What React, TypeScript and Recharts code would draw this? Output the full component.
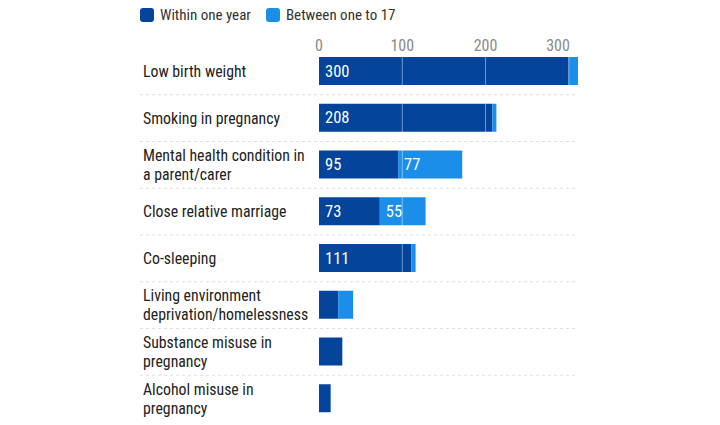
import React from 'react'
import { BarChart, Bar, XAxis, YAxis, ReferenceLine, LabelList } from 'recharts'

const CATEGORIES = [
  'Low birth weight',
  'Smoking in pregnancy',
  'Mental health condition in\na parent/carer',
  'Close relative marriage',
  'Co-sleeping',
  'Living environment\ndeprivation/homelessness',
  'Substance misuse in\npregnancy',
  'Alcohol misuse in\npregnancy',
]
const WITHIN_ONE_YEAR = [300, 208, 95, 73, 111, 23, 28, 14]
const ONE_TO_17 = [11, 5, 77, 55, 5, 18, 0, 0]
const X_TICKS = [0, 100, 200, 300]
const GRID_LINES = [100, 200, 300]

const DARK = '#04449a'
const LIGHT = '#1b8ee9'
const FONT = "'Roboto Condensed', 'Liberation Sans Narrow', 'DejaVu Sans Condensed', Roboto, sans-serif"

const W = 720
const H = 425
const MARGIN = { top: 28, right: 142, bottom: 3, left: 143 }
const X_AXIS_H = 20
const BAND = (H - MARGIN.top - MARGIN.bottom - X_AXIS_H) / CATEGORIES.length

const data = CATEGORIES.map((name, i) => ({
  name,
  within: WITHIN_ONE_YEAR[i],
  between: ONE_TO_17[i],
}))

const CategoryTick = (props: any) => {
  const { y, payload, index } = props
  const lines = String(payload.value).split('\n')
  const startY = y - ((lines.length - 1) * 19) / 2
  return (
    <g>
      <text x={MARGIN.left} y={startY} fill="#222" fontSize={15.8} fontFamily={FONT} textAnchor="start">
        {lines.map((l, i) => (
          <tspan key={i} x={MARGIN.left} y={startY + i * 19} dominantBaseline="central">
            {l}
          </tspan>
        ))}
      </text>
      {index < CATEGORIES.length - 1 && (
        <line
          x1={140}
          x2={W - MARGIN.right}
          y1={y + BAND / 2}
          y2={y + BAND / 2}
          stroke="#dedede"
          strokeDasharray="3 3"
        />
      )}
    </g>
  )
}

const ValueTick = (props: any) => {
  const { x, payload, index } = props
  const last = index === X_TICKS.length - 1
  return (
    <text
      x={last ? x + 1 : x}
      y={45}
      fill="#8a8a8a"
      fontSize={16}
      fontFamily={FONT}
      textAnchor={last ? 'end' : 'middle'}
      dominantBaseline="central"
    >
      {payload.value}
    </text>
  )
}

const ValueLabel = (props: any) => {
  const { x, y, height, value } = props
  if (value < 50) return null
  return (
    <text x={x + 6} y={y + height / 2} fill="#fff" fontSize={16.5} fontFamily={FONT} dominantBaseline="central">
      {value}
    </text>
  )
}

const LegendItem = ({ color, label }: { color: string; label: string }) => (
  <div style={{ display: 'flex', alignItems: 'center', marginRight: 15 }}>
    <span style={{ width: 14, height: 14, borderRadius: 3, background: color, marginRight: 6, display: 'inline-block' }} />
    <span>{label}</span>
  </div>
)

export default function App() {
  return (
    <div style={{ position: 'absolute', left: 0, top: 0, width: W, height: H, background: '#fff' }}>
      <div
        style={{
          position: 'absolute',
          left: 140,
          top: 6,
          display: 'flex',
          fontFamily: FONT,
          fontSize: 15,
          color: '#333',
        }}
      >
        <LegendItem color={DARK} label="Within one year" />
        <LegendItem color={LIGHT} label="Between one to 17" />
      </div>
      <BarChart width={W} height={H} data={data} layout="vertical" margin={MARGIN}>
        <XAxis
          type="number"
          orientation="top"
          domain={[0, 310]}
          ticks={X_TICKS}
          axisLine={false}
          tickLine={false}
          height={X_AXIS_H}
          interval={0}
          tick={<ValueTick />}
        />
        <YAxis
          type="category"
          dataKey="name"
          width={176}
          axisLine={false}
          tickLine={false}
          tick={<CategoryTick />}
          interval={0}
        />
        <Bar dataKey="within" stackId="a" fill={DARK} barSize={28} isAnimationActive={false}>
          <LabelList dataKey="within" content={<ValueLabel />} />
        </Bar>
        <Bar dataKey="between" stackId="a" fill={LIGHT} barSize={28} isAnimationActive={false}>
          <LabelList dataKey="between" content={<ValueLabel />} />
        </Bar>
        {GRID_LINES.map((v) => (
          <ReferenceLine key={v} x={v} stroke="#ffffff" strokeOpacity={0.45} />
        ))}
      </BarChart>
    </div>
  )
}
